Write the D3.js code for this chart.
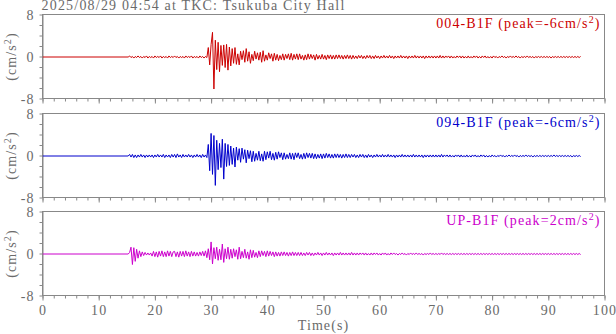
<!DOCTYPE html>
<html>
<head>
<meta charset="utf-8">
<script src="https://cdn.jsdelivr.net/npm/d3@7"></script>
<style>
  body { margin: 0; background: #fff; }
  svg text { font-family: "Liberation Serif", "DejaVu Serif", serif; fill: #6a6a6a; }
</style>
</head>
<body>
<svg id="chart"></svg>
<script>
// ---- data ----
const title = "2025/08/29 04:54 at TKC: Tsukuba City Hall";
const stations = ["004-B1F", "094-B1F", "UP-B1F"];
const peaks = [-6, -6, 2];
const colors = ["#cc0000", "#0000cc", "#cc00cc"];

// samples every 0.25 s starting at 15.5 s (before that the trace is flat at 0)
const T0 = 15.5;
const DT = 0.25;

const ns004 = [
  .2,-.1,.1,-.2,.1,-.1,.2,-.1,.1,-.2,.1,-.1,.2,-.2,.1,-.1,
  .1,-.2,.2,-.1,.1,-.1,.2,-.2,.1,-.1,.1,-.2,.2,-.1,.1,-.1,
  .2,-.1,.1,-.2,.1,-.1,.1,-.2,.2,-.1,.1,-.1,.2,-.2,.1,-.1,
  .1,-.2,.2,-.1,.1,-.2,.1,-.1,
  1.8,-1.5,2.4,4.7,-6.1,3.2,-2.4,2.8,-2.8,2.2,-1.6,2.3,-2.0,2.4,-2.5,1.9,
  -1.7,1.6,-1.2,1.8,-1.4,0.6,-1.5,1.1,-0.5,1.2,-1.0,1.6,-0.8,1.0,-1.2,0.5,
  -0.7,1.1,-0.4,0.8,-0.6,0.9,-1.0,1.2,-0.8,0.4,-0.6,0.8,-0.3,0.6,-0.8,0.7,
  -0.6,0.5,-0.7,0.3,-0.5,0.6,-0.6,0.5,-0.3,0.6,-0.5,0.7,-0.6,0.5,-0.4,0.6,
  -0.5,0.6,-0.4,0.3,-0.6,0.4,-0.5,0.6,-0.4,0.5,-0.3,0.4,-0.6,0.5,-0.4,0.3,
  -0.4,0.5,-0.4,0.3,-0.5,0.4,-0.3,0.4,-0.4,0.3,-0.4,0.4,-0.3,0.4,-0.3,0.3,
  -0.4,0.3,-0.3,0.4,-0.3,0.3,-0.4,0.3,-0.3,0.2,-0.3,0.3,-0.2,0.3,-0.3,0.2,
  -0.3,0.3,-0.2,0.3,-0.3,0.2,-0.3,0.3,-0.2,0.2,-0.3,0.2,-0.2,0.3,-0.2,0.2,
  -0.2,0.3,-0.2,0.2,-0.3,0.2,-0.2,0.2,-0.2,0.3,-0.2,0.2,-0.2,0.2,-0.3,0.2,
  -0.2,0.2,-0.2,0.3,-0.2,0.2,-0.2,0.2,-0.2,0.2,-0.3,0.2,-0.2,0.2,-0.2,0.2,
  -0.2,0.2,-0.2,0.2,-0.2,0.3,-0.2,0.2,-0.2,0.2,-0.1,0.2,-0.2,0.2,-0.2,0.1,
  -0.2,0.2,-0.1,0.2,-0.2,0.2,-0.2,0.1,-0.2,0.2,-0.2,0.1,-0.2,0.2,-0.1,0.2,
  -0.2,0.1,-0.2,0.2,-0.1,0.2,-0.2,0.1,-0.2,0.1,-0.2,0.2,-0.1,0.1,-0.2,0.1,
  -0.1,0.2,-0.1,0.1,-0.2,0.1,-0.1,0.2,-0.1,0.1,-0.1,0.2,-0.1,0.1,-0.2,0.1,
  -0.1,0.1,-0.1,0.2,-0.1,0.1,-0.1,0.1,-0.2,0.1,-0.1,0.1,-0.1,0.1,-0.1,0.1,
  -0.1,0.1,-0.1,0.1,-0.2,0.1,-0.1,0.1,-0.1,0.1,-0.1,0.1,-0.1,0.1,-0.1,0.1,
  -0.1,0.1,-0.1,0.1,-0.1,0.1,-0.1,0.1,-0.1,0.1
];

const ns094 = [
  .3,-.2,.3,-.3,.2,-.3,.2,-.2,.3,-.2,.2,-.3,.2,-.2,.2,-.2,
  .2,-.3,.2,-.2,.3,-.2,.2,-.2,.3,-.3,.2,-.2,.2,-.3,.3,-.2,
  .3,-.3,.4,-.2,.2,-.3,.3,-.2,.2,-.2,.3,-.2,.2,-.3,.2,-.2,
  .3,-.2,.2,-.3,.3,-.2,.2,-.3,
  2.2,-2.8,4.3,-3.5,3.9,-5.6,3.0,-2.6,2.4,-2.2,3.2,-4.4,2.4,-2.0,2.2,-1.8,
  1.9,-1.6,1.5,-2.1,1.7,-0.8,1.4,-1.2,1.5,-0.6,1.2,-1.3,1.1,-0.5,1.0,-1.1,
  0.9,-1.0,0.5,-0.8,0.9,-0.9,0.4,-1.0,0.9,-0.7,0.8,-0.4,0.9,-0.7,0.5,-0.8,
  0.7,-0.6,0.8,-0.3,0.6,-0.7,0.6,-0.6,0.3,-0.5,0.6,-0.6,0.5,-0.7,0.6,-0.3,
  0.6,-0.5,0.3,-0.6,0.5,-0.5,0.6,-0.3,0.5,-0.4,0.5,-0.5,0.4,-0.5,0.3,-0.4,
  0.4,-0.5,0.4,-0.4,0.5,-0.3,0.4,-0.4,0.3,-0.4,0.4,-0.3,0.4,-0.3,0.3,-0.4,
  0.3,-0.3,0.4,-0.3,0.3,-0.3,0.3,-0.2,0.3,-0.3,0.2,-0.3,0.3,-0.2,0.3,-0.3,
  0.2,-0.3,0.3,-0.2,0.2,-0.3,0.2,-0.2,0.3,-0.2,0.2,-0.2,0.3,-0.2,0.2,-0.2,
  0.3,-0.2,0.2,-0.2,0.2,-0.3,0.2,-0.2,0.2,-0.2,0.3,-0.2,0.2,-0.2,0.2,-0.2,
  0.2,-0.2,0.3,-0.2,0.2,-0.2,0.2,-0.2,0.2,-0.3,0.2,-0.2,0.2,-0.2,0.2,-0.2,
  0.2,-0.2,0.2,-0.2,0.2,-0.2,0.3,-0.2,0.2,-0.1,0.2,-0.2,0.2,-0.2,0.1,-0.2,
  0.2,-0.1,0.2,-0.2,0.2,-0.2,0.1,-0.2,0.2,-0.2,0.1,-0.2,0.2,-0.1,0.2,-0.2,
  0.1,-0.2,0.2,-0.1,0.2,-0.2,0.1,-0.2,0.1,-0.2,0.2,-0.1,0.1,-0.2,0.1,-0.1,
  0.2,-0.1,0.1,-0.2,0.1,-0.1,0.2,-0.1,0.1,-0.1,0.2,-0.1,0.1,-0.2,0.1,-0.1,
  0.1,-0.1,0.2,-0.1,0.1,-0.1,0.1,-0.2,0.1,-0.1,0.1,-0.1,0.1,-0.1,0.1,-0.1,
  0.1,-0.1,0.1,-0.1,0.1,-0.1,0.2,-0.1,0.1,-0.1,0.1,-0.1,0.1,-0.1,0.1,-0.1,
  0.1,-0.1,0.1,-0.2,0.1,-0.1,0.1,-0.1,0.1,-0.1
];

const udUP = [
  0.3,1.3,-2.0,1.2,-1.4,0.9,-0.8,0.6,-0.5,0.4,-0.3,0.3,-0.2,0.2,-0.2,0.2,
  -0.4,0.5,-0.5,0.4,-0.6,0.5,-0.4,0.6,-0.5,0.4,-0.5,0.6,-0.4,0.5,-0.5,0.4,
  0.5,-0.5,0.4,-0.6,0.5,-0.4,0.5,-0.5,0.6,-0.4,0.4,-0.5,0.5,-0.4,0.4,-0.4,
  0.3,-0.4,0.4,-0.3,0.5,-0.4,0.6,-0.7,
  1.0,-1.1,2.3,-1.9,1.2,-0.9,1.3,-1.2,0.9,-1.1,1.9,-1.6,1.0,-0.9,1.3,-1.0,
  0.9,-0.8,1.0,-0.5,0.8,-1.0,1.3,-0.9,0.5,-0.7,0.9,-0.8,0.4,-1.0,0.8,-0.7,
  0.7,-0.6,0.3,-0.7,0.6,-0.5,0.6,-0.3,0.5,-0.5,0.6,-0.4,0.5,-0.3,0.4,-0.5,
  0.4,-0.4,0.3,-0.4,0.4,-0.3,0.4,-0.3,0.3,-0.4,0.3,-0.3,0.4,-0.3,0.3,-0.3,
  0.3,-0.3,0.3,-0.3,0.2,-0.3,0.3,-0.2,0.3,-0.3,0.2,-0.3,0.2,-0.2,0.3,-0.2,
  0.2,-0.3,0.2,-0.2,0.3,-0.2,0.2,-0.2,0.2,-0.3,0.2,-0.2,0.2,-0.2,0.3,-0.2,
  0.2,-0.2,0.2,-0.2,0.2,-0.2,0.3,-0.2,0.2,-0.2,0.2,-0.2,0.2,-0.1,0.2,-0.2,
  0.2,-0.2,0.1,-0.2,0.2,-0.2,0.2,-0.1,0.2,-0.2,0.1,-0.2,0.2,-0.1,0.2,-0.2,
  0.1,-0.2,0.2,-0.1,0.2,-0.1,0.1,-0.2,0.1,-0.1,0.2,-0.1,0.1,-0.2,0.1,-0.1,
  0.2,-0.1,0.1,-0.1,0.2,-0.1,0.1,-0.1,0.1,-0.2,0.1,-0.1,0.1,-0.1,0.2,-0.1,
  0.1,-0.1,0.1,-0.1,0.1,-0.1,0.2,-0.1,0.1,-0.1,0.1,-0.1,0.1,-0.1,0.1,-0.1,
  0.1,-0.1,0.1,-0.1,0.1,-0.1,0.1,-0.1,0.1,-0.1,0.1,-0.1,0.1,-0.1,0.1,-0.1,
  0.1,-0.1,0.1,-0.1,0.1,-0.1,0.1,-0.1,0.1,-0.1,0.1,-0.1,0.1,-0.1,0.1,-0.1,
  0.1,-0.1,0.1,-0.1,0.1,-0.1,0.1,-0.1,0.1,-0.1,0.1,-0.1,0.1,-0.1,0.1,-0.1,
  0.1,-0.1,0.1,-0.1,0.1,-0.1,0.1,-0.1,0.1,-0.1,0.1,-0.1,0.1,-0.1,0.1,-0.1,
  0.1,-0.1,0.1,-0.1,0.1,-0.1,0.1,-0.1,0.1,-0.1,0.1,-0.1,0.1,-0.1,0.1,-0.1,
  0.1,-0.1,0.1,-0.1,0.1,-0.1,0.1,-0.1,0.1,-0.1
];

const series = [ns004, ns094, udUP];

const xDomain = [0, 100];
const yDomain = [-8, 8];
const xMajorTicks = [0, 10, 20, 30, 40, 50, 60, 70, 80, 90, 100];
const xMinorTicks = d3.range(0, 101, 2);
const yLabelTicks = [-8, 0, 8];
const yMinorTicks = d3.range(-8, 9, 2);

// ---- layout ----
const width = 616, height = 334;
const left = 42.5, right = 604.5;
const panelTops = [14.5, 113.5, 211.5];
const panelH = 84;
const grey = "#888";
const fs = 14, ls = 1.1;

const svg = d3.select("#chart").attr("width", width).attr("height", height);

const x = d3.scaleLinear().domain(xDomain).range([left, right]);

svg.append("text")
  .attr("x", left - 1)
  .attr("y", 10)
  .attr("font-size", fs)
  .attr("letter-spacing", 1.2)
  .text(title);

svg.append("defs").selectAll("clipPath")
  .data(panelTops)
  .join("clipPath")
  .attr("id", (d, i) => "clip" + i)
  .append("rect")
  .attr("x", left).attr("y", d => d)
  .attr("width", right - left).attr("height", panelH);

panelTops.forEach((top, i) => {
  const y = d3.scaleLinear().domain(yDomain).range([top + panelH, top]);
  const g = svg.append("g");

  // frame
  g.append("rect")
    .attr("x", left).attr("y", top)
    .attr("width", right - left).attr("height", panelH)
    .attr("fill", "none").attr("stroke", grey).attr("stroke-width", 1);

  // y axis
  const ya = g.append("g")
    .attr("transform", `translate(${left},0)`)
    .call(d3.axisLeft(y).tickValues(yMinorTicks).tickSize(3).tickSizeOuter(0)
      .tickFormat(d => yLabelTicks.includes(d) ? String(d) : ""));
  ya.select(".domain").attr("stroke", grey);
  ya.selectAll(".tick line").attr("stroke", grey);
  ya.selectAll(".tick text")
    .attr("x", -8).attr("dy", "0.36em")
    .attr("font-size", fs).attr("letter-spacing", ls)
    .attr("font-family", null).attr("fill", null);

  // x axis ticks under each panel
  const xm = g.append("g")
    .attr("transform", `translate(0,${top + panelH})`)
    .call(d3.axisBottom(x).tickValues(xMinorTicks).tickSize(3).tickSizeOuter(0).tickFormat(""));
  xm.select(".domain").remove();
  xm.selectAll(".tick line").attr("stroke", grey);

  const xa = g.append("g")
    .attr("transform", `translate(0,${top + panelH})`)
    .call(d3.axisBottom(x).tickValues(xMajorTicks).tickSize(5).tickSizeOuter(0)
      .tickFormat(i === 2 ? d => String(d) : ""));
  xa.select(".domain").remove();
  xa.selectAll(".tick line").attr("stroke", grey);
  xa.selectAll(".tick text")
    .attr("y", 10).attr("dy", "0.71em")
    .attr("font-size", fs).attr("letter-spacing", ls)
    .attr("font-family", null).attr("fill", null);

  // unit label
  const unit = g.append("text")
    .attr("transform", `translate(16,${top + panelH / 2}) rotate(-90)`)
    .attr("text-anchor", "middle")
    .attr("font-size", fs)
    .attr("letter-spacing", ls);
  unit.append("tspan").text("(cm/s");
  unit.append("tspan").attr("dy", -5).attr("font-size", 10).text("2");
  unit.append("tspan").attr("dy", 5).text(")");

  // waveform (half-pixel shift so the zero line spreads over two rows like the original)
  const pts = [[0, 0], [T0 - DT, 0]].concat(series[i].map((v, k) => [T0 + k * DT, v]));
  g.append("g")
    .attr("clip-path", `url(#clip${i})`)
    .append("path")
    .datum(pts)
    .attr("transform", "translate(0,0.5)")
    .attr("fill", "none")
    .attr("stroke", colors[i])
    .attr("stroke-width", 1)
    .attr("d", d3.line().x(d => x(d[0])).y(d => y(d[1])));

  // station label
  const lab = g.append("text")
    .attr("x", right - 4)
    .attr("y", top + 13.5)
    .attr("text-anchor", "end")
    .attr("font-size", fs)
    .attr("letter-spacing", ls)
    .style("fill", colors[i]);
  lab.append("tspan").text(`${stations[i]} (peak=${peaks[i]}cm/s`);
  lab.append("tspan").attr("dy", -5).attr("font-size", 10).text("2");
  lab.append("tspan").attr("dy", 5).text(")");
});

svg.append("text")
  .attr("x", x(50))
  .attr("y", 330)
  .attr("text-anchor", "middle")
  .attr("font-size", fs)
  .attr("letter-spacing", ls)
  .text("Time(s)");
</script>
</body>
</html>
